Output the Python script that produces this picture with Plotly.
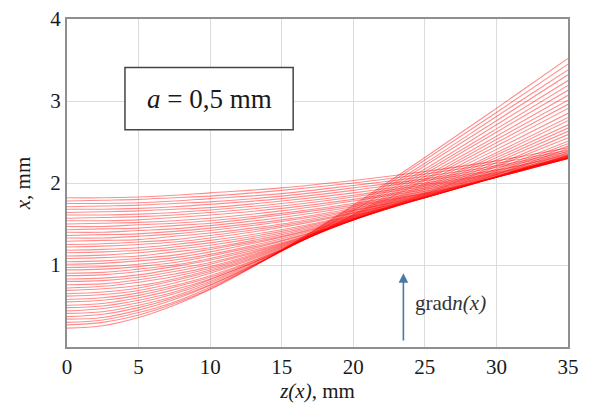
import plotly.graph_objects as go

# z positions (mm) at which every ray height was read
z_knots = [0, 2.5, 5, 7.5, 10, 15, 20, 25, 30, 35]

# ray heights x (mm) at each z knot, one entry per ray (bottom ray first)
x_at_z0 = [0.23, 0.27, 0.30, 0.34, 0.37, 0.41, 0.44, 0.48, 0.51, 0.55, 0.58, 0.62, 0.65, 0.69, 0.72, 0.76,
           0.80, 0.83, 0.87, 0.90, 0.94, 0.97, 1.01, 1.04, 1.08, 1.11, 1.15, 1.18, 1.22, 1.25, 1.29, 1.33,
           1.36, 1.40, 1.43, 1.47, 1.50, 1.54, 1.57, 1.61, 1.64, 1.68, 1.71, 1.75, 1.78, 1.82]
x_at_z2_5 = [0.26, 0.30, 0.33, 0.36, 0.40, 0.43, 0.47, 0.50, 0.53, 0.57, 0.60, 0.64, 0.67, 0.71, 0.74, 0.77,
             0.81, 0.84, 0.88, 0.91, 0.95, 0.98, 1.02, 1.05, 1.09, 1.12, 1.16, 1.19, 1.23, 1.26, 1.30, 1.33,
             1.37, 1.40, 1.44, 1.47, 1.51, 1.54, 1.58, 1.61, 1.65, 1.68, 1.72, 1.75, 1.79, 1.82]
x_at_z5 = [0.36, 0.39, 0.42, 0.45, 0.48, 0.51, 0.54, 0.57, 0.60, 0.63, 0.66, 0.69, 0.72, 0.75, 0.79, 0.82,
           0.85, 0.88, 0.92, 0.95, 0.98, 1.01, 1.05, 1.08, 1.11, 1.15, 1.18, 1.21, 1.25, 1.28, 1.31, 1.35,
           1.38, 1.42, 1.45, 1.49, 1.52, 1.55, 1.59, 1.62, 1.66, 1.69, 1.73, 1.76, 1.80, 1.83]
x_at_z7_5 = [0.51, 0.53, 0.55, 0.58, 0.60, 0.62, 0.65, 0.67, 0.70, 0.73, 0.75, 0.78, 0.81, 0.83, 0.86, 0.89,
             0.92, 0.95, 0.98, 1.00, 1.03, 1.06, 1.09, 1.12, 1.16, 1.19, 1.22, 1.25, 1.28, 1.31, 1.35, 1.38,
             1.41, 1.44, 1.48, 1.51, 1.54, 1.58, 1.61, 1.64, 1.68, 1.71, 1.75, 1.78, 1.82, 1.85]
x_at_z10 = [0.70, 0.71, 0.73, 0.75, 0.76, 0.78, 0.80, 0.82, 0.83, 0.85, 0.87, 0.90, 0.92, 0.94, 0.96, 0.98,
            1.01, 1.03, 1.06, 1.08, 1.11, 1.13, 1.16, 1.19, 1.21, 1.24, 1.27, 1.30, 1.33, 1.36, 1.39, 1.42,
            1.45, 1.48, 1.51, 1.54, 1.57, 1.61, 1.64, 1.67, 1.70, 1.74, 1.77, 1.81, 1.84, 1.88]
x_at_z15 = [1.18, 1.18, 1.17, 1.17, 1.17, 1.17, 1.18, 1.18, 1.18, 1.19, 1.19, 1.20, 1.21, 1.22, 1.23, 1.24,
            1.25, 1.26, 1.27, 1.29, 1.30, 1.32, 1.34, 1.35, 1.37, 1.39, 1.41, 1.43, 1.46, 1.48, 1.50, 1.53,
            1.55, 1.58, 1.61, 1.63, 1.66, 1.69, 1.72, 1.75, 1.78, 1.81, 1.84, 1.87, 1.91, 1.94]
x_at_z20 = [1.73, 1.71, 1.69, 1.67, 1.66, 1.64, 1.62, 1.61, 1.60, 1.59, 1.58, 1.57, 1.56, 1.56, 1.55, 1.55,
            1.55, 1.55, 1.55, 1.55, 1.55, 1.56, 1.56, 1.57, 1.58, 1.59, 1.60, 1.61, 1.63, 1.64, 1.66, 1.67,
            1.69, 1.71, 1.73, 1.75, 1.78, 1.80, 1.83, 1.85, 1.88, 1.91, 1.94, 1.97, 2.00, 2.03]
x_at_z25 = [2.31, 2.28, 2.24, 2.21, 2.17, 2.14, 2.11, 2.08, 2.05, 2.03, 2.00, 1.98, 1.96, 1.94, 1.92, 1.90,
            1.88, 1.87, 1.86, 1.85, 1.84, 1.83, 1.83, 1.82, 1.82, 1.82, 1.82, 1.82, 1.83, 1.83, 1.84, 1.85,
            1.86, 1.87, 1.88, 1.90, 1.92, 1.94, 1.96, 1.98, 2.00, 2.03, 2.05, 2.08, 2.11, 2.14]
x_at_z30 = [2.91, 2.86, 2.81, 2.76, 2.71, 2.66, 2.62, 2.57, 2.53, 2.49, 2.45, 2.41, 2.37, 2.34, 2.31, 2.28,
            2.25, 2.22, 2.20, 2.17, 2.15, 2.13, 2.11, 2.10, 2.08, 2.07, 2.08, 2.08, 2.07, 2.07, 2.07, 2.07,
            2.07, 2.07, 2.08, 2.09, 2.10, 2.11, 2.12, 2.13, 2.15, 2.16, 2.19, 2.21, 2.24, 2.27]
x_at_z35 = [3.52, 3.45, 3.38, 3.32, 3.25, 3.19, 3.13, 3.07, 3.01, 2.96, 2.91, 2.85, 2.80, 2.76, 2.71, 2.67,
            2.63, 2.59, 2.55, 2.51, 2.48, 2.45, 2.42, 2.39, 2.37, 2.34, 2.33, 2.33, 2.32, 2.31, 2.31, 2.30,
            2.30, 2.30, 2.30, 2.30, 2.31, 2.31, 2.32, 2.33, 2.34, 2.35, 2.36, 2.38, 2.40, 2.43]

ray_columns = [x_at_z0, x_at_z2_5, x_at_z5, x_at_z7_5, x_at_z10, x_at_z15, x_at_z20, x_at_z25, x_at_z30,
               x_at_z35]

x_tick_vals = [0, 5, 10, 15, 20, 25, 30, 35]
y_tick_vals = [1, 2, 3, 4]
box_label = "<i>a</i> = 0,5 mm"
arrow_label = "grad<i>n(x)</i>"

fig = go.Figure()
for i in range(len(x_at_z0)):
    heights = [col[i] for col in ray_columns]
    fig.add_trace(go.Scatter(x=z_knots, y=heights, mode="lines",
                             line=dict(color="rgba(255,0,0,0.45)", width=1.1, shape="spline"),
                             hoverinfo="skip", showlegend=False))

serif = "Liberation Serif, Times New Roman, serif"
# the page body adds an 8 px offset; margins below compensate for it
fig.update_layout(
    width=591, height=403, margin=dict(l=59, r=31, t=11, b=64),
    plot_bgcolor="white", paper_bgcolor="white", showlegend=False,
    font=dict(family=serif, size=20, color="#222"),
)
fig.update_xaxes(range=[0, 35], tickvals=x_tick_vals, showgrid=True, gridcolor="#dcdcdc",
                 gridwidth=1, zeroline=False, showline=True, linecolor="#8f8f8f", linewidth=2, mirror=True,
                 ticks="", automargin=False, ticklabeloverflow="allow",
                 tickfont=dict(family=serif, size=21, color="#1a1a1a"),
                 title=dict(text="<i>z(x)</i>, mm", font=dict(family=serif, size=21, color="#1a1a1a"), standoff=4))
fig.update_yaxes(range=[0, 4], tickvals=y_tick_vals, showgrid=True, gridcolor="#dcdcdc", gridwidth=1,
                 zeroline=False, showline=True, linecolor="#8f8f8f", linewidth=2, mirror=True,
                 ticks="", automargin=False, ticklabeloverflow="allow",
                 tickfont=dict(family=serif, size=21, color="#1a1a1a"),
                 title=dict(text="<i>x</i>, mm", font=dict(family=serif, size=21, color="#1a1a1a"), standoff=14))

fig.add_shape(type="rect", x0=4.05, x1=15.8, y0=2.65, y1=3.41, line=dict(color="#444", width=1.5),
              fillcolor="white", layer="above")
fig.add_annotation(x=9.93, y=3.03, text=box_label, showarrow=False,
                   font=dict(family=serif, size=27, color="#1a1a1a"))
fig.add_annotation(x=23.5, y=0.9, ax=23.5, ay=0.06, axref="x", ayref="y", xref="x", yref="y", text="",
                   showarrow=True, arrowhead=2, arrowsize=1.2, arrowwidth=1.6, arrowcolor="#4a78a8")
fig.add_annotation(x=24.2, y=0.54, text=arrow_label, showarrow=False, xanchor="left",
                   font=dict(family=serif, size=21, color="#333"))

fig.write_html("out.html")
